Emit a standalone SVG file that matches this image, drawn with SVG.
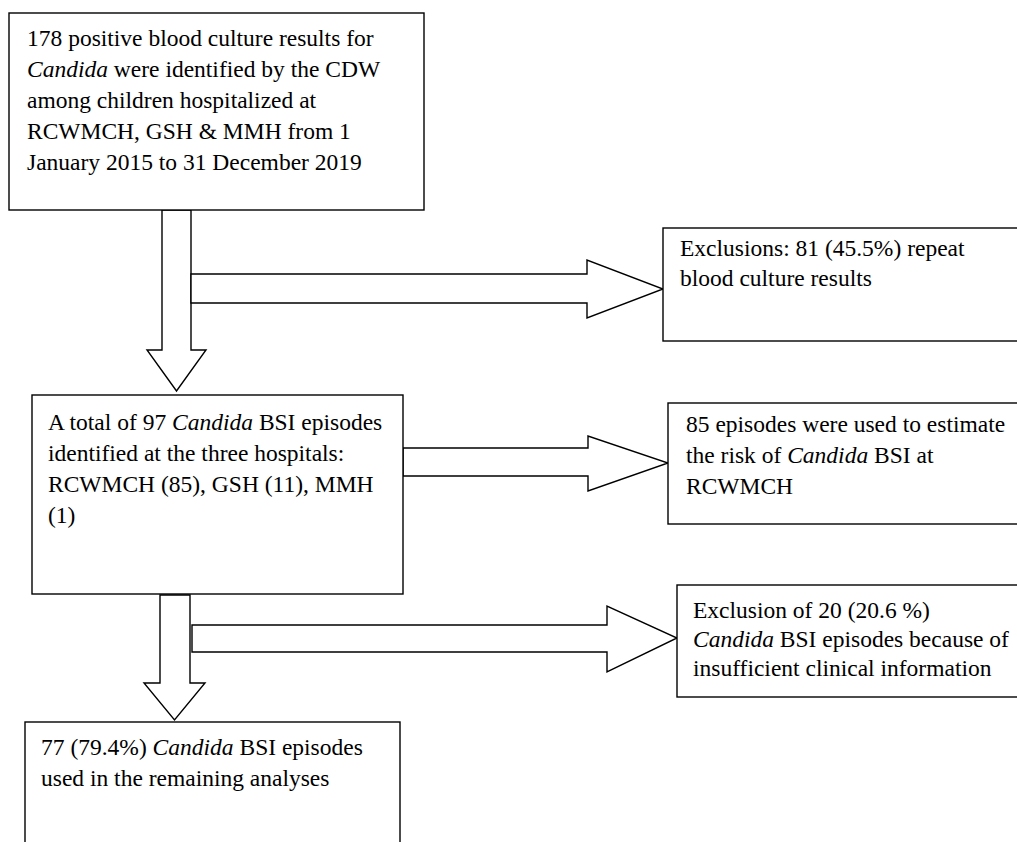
<svg xmlns="http://www.w3.org/2000/svg" width="1017" height="842" viewBox="0 0 1017 842">
<style>
.box{fill:#fff;stroke:#000;stroke-width:1.4}
.arr{fill:#fff;stroke:#000;stroke-width:1.4;stroke-linejoin:miter}
text{font-family:"Liberation Serif","Times New Roman",serif;font-size:23.5px;fill:#000}
.i{font-style:italic}
</style>
<rect width="1017" height="842" fill="#fff"/>
<g id="connectors">
<polygon class="arr" points="162,210 191,210 191,350 206,350 176.5,391 147,350 162,350"/>
<polygon class="arr" points="191,274 587,274 587,260 663,289 587,318 587,303 191,303"/>
<polygon class="arr" points="403,448 588,448 588,436 668,463 588,491 588,476 403,476"/>
<polygon class="arr" points="160,595 190,595 190,683 205,683 174.5,720 144,683 160,683"/>
<polygon class="arr" points="192,625 607,625 607,606 677,638 607,672 607,652 192,652"/>
</g>
<g id="n1">
<rect class="box" x="9" y="13" width="415" height="197"/>
<text x="27" y="46">178 positive blood culture results for</text>
<text x="27" y="77"><tspan class="i">Candida</tspan> were identified by the CDW</text>
<text x="27" y="108">among children hospitalized at</text>
<text x="27" y="139">RCWMCH, GSH &amp; MMH from 1</text>
<text x="27" y="170">January 2015 to 31 December 2019</text>
</g>
<g id="n2">
<rect class="box" x="663" y="228" width="400" height="113"/>
<text x="680" y="256">Exclusions: 81 (45.5%) repeat</text>
<text x="680" y="286">blood culture results</text>
</g>
<g id="n3">
<rect class="box" x="32" y="395" width="371" height="199"/>
<text x="48" y="430">A total of 97 <tspan class="i">Candida</tspan> BSI episodes</text>
<text x="48" y="461">identified at the three hospitals:</text>
<text x="48" y="492">RCWMCH (85), GSH (11), MMH</text>
<text x="48" y="523">(1)</text>
</g>
<g id="n4">
<rect class="box" x="668" y="403" width="400" height="121"/>
<text x="686" y="432">85 episodes were used to estimate</text>
<text x="686" y="463">the risk of <tspan class="i">Candida</tspan> BSI at</text>
<text x="686" y="494">RCWMCH</text>
</g>
<g id="n5">
<rect class="box" x="677" y="585" width="400" height="112"/>
<text x="693" y="618">Exclusion of 20 (20.6 %)</text>
<text x="693" y="647"><tspan class="i">Candida</tspan> BSI episodes because of</text>
<text x="693" y="676">insufficient clinical information</text>
</g>
<g id="n6">
<rect class="box" x="25" y="722" width="375" height="140"/>
<text x="41" y="755">77 (79.4%) <tspan class="i">Candida</tspan> BSI episodes</text>
<text x="41" y="786">used in the remaining analyses</text>
</g>
</svg>
